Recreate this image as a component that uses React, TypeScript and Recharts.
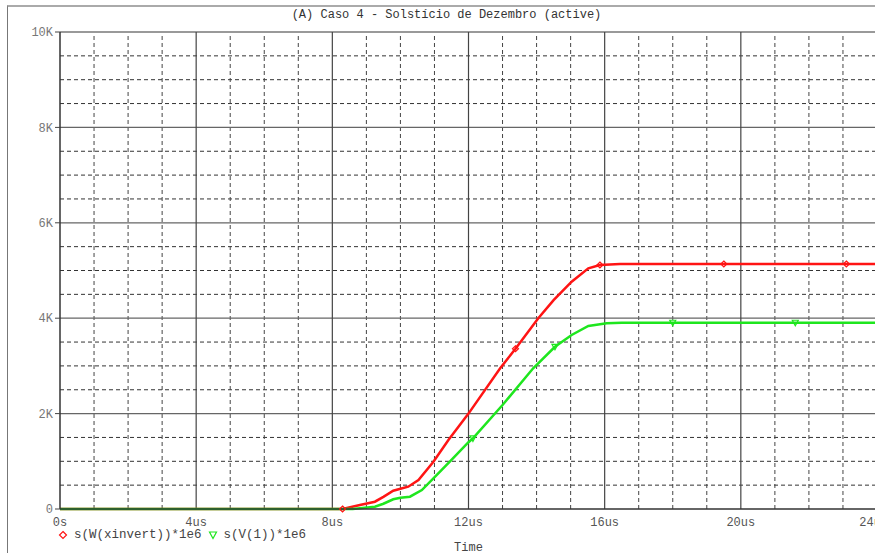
import React from "react";
import { LineChart, Line, XAxis, YAxis, ReferenceLine } from "recharts";

const FONT = "'Liberation Mono', 'DejaVu Sans Mono', monospace";

// time in us, values in the PSpice units (x1e6)
const redTime = [0, 8.3, 8.81, 9.25, 9.5, 9.79, 10.0, 10.23, 10.53, 10.97, 11.41, 12.0, 12.93, 13.38, 14.05, 14.5, 15.03, 15.52, 15.86, 16.45, 19.5, 23.1, 24];
const redValue = [0, 0, 84, 153, 255, 384, 425, 468, 608, 992, 1447, 2000, 2950, 3360, 4000, 4380, 4765, 5046, 5115, 5136, 5136, 5136, 5136];
const redMarks = [8.3, 13.38, 15.86, 19.5, 23.1];

const greenTime = [0, 8.6, 8.81, 9.25, 9.5, 9.79, 10.0, 10.28, 10.63, 11.07, 11.5, 12.0, 12.13, 13.0, 13.9, 14.54, 15.03, 15.52, 16.06, 16.5, 18.0, 21.6, 24];
const greenValue = [0, 0, 14, 49, 110, 203, 235, 258, 398, 713, 1030, 1400, 1480, 2180, 2950, 3400, 3648, 3836, 3893, 3905, 3905, 3905, 3905];
const greenMarks = [12.13, 14.54, 18.0, 21.6];

const xMajor = [0, 4, 8, 12, 16, 20, 24];
const xMinor = [1, 2, 3, 5, 6, 7, 9, 10, 11, 13, 14, 15, 17, 18, 19, 21, 22, 23];
const yMajor = [0, 2000, 4000, 6000, 8000, 10000];
const yMinor = [500, 1000, 1500, 2500, 3000, 3500, 4500, 5000, 5500, 6500, 7000, 7500, 8500, 9000, 9500];

const redData = redTime.map((t, i) => ({ t, v: redValue[i] }));
const greenData = greenTime.map((t, i) => ({ t, v: greenValue[i] }));

const RED = "#ff1414";
const GREEN = "#1ee61e";

function Diamond({ cx, cy }: any) {
  return <polygon points={`${cx},${cy - 3} ${cx + 3},${cy} ${cx},${cy + 3} ${cx - 3},${cy}`} fill="none" stroke={RED} strokeWidth={1.2} />;
}
function TriDown({ cx, cy }: any) {
  return <polygon points={`${cx - 3},${cy - 2.5} ${cx + 3},${cy - 2.5} ${cx},${cy + 3}`} fill="none" stroke={GREEN} strokeWidth={1.2} />;
}

const markDot = (marks: number[], Shape: any) => (p: any) => {
  if (!marks.includes(p.payload?.t)) return <g key={`d${p.index}`} />;
  return <Shape key={`d${p.index}`} cx={p.cx} cy={p.cy} />;
};

const fmtY = (v: number) => (v === 0 ? "0" : `${v / 1000}K`);
const fmtX = (v: number) => (v === 0 ? "0s" : `${v}us`);

export default function App() {
  return (
    <div style={{ position: "fixed", left: 0, top: 0, width: 875, height: 553, overflow: "hidden", background: "#fff", fontFamily: FONT }}>
      <div style={{ position: "absolute", left: 7, top: 5, width: 900, height: 600, borderLeft: "1px solid #777", borderTop: "2px solid #aaa" }} />
      <div style={{ position: "absolute", left: 0, top: 8, width: 893, textAlign: "center", fontSize: 12, color: "#333" }}>
        (A) Caso 4 - Solstício de Dezembro (active)
      </div>
      <LineChart width={885} height={553} margin={{ top: 32, right: 8, left: 0, bottom: 0 }}>
        <XAxis
          dataKey="t" type="number" domain={[0, 24]} ticks={xMajor} allowDataOverflow
          tickFormatter={fmtX} height={44} tickLine={false}
          axisLine={{ stroke: "#333", strokeWidth: 1.5 }}
          tick={{ fontSize: 12, fill: "#555", fontFamily: FONT }}
          label={{ value: "Time", position: "insideBottom", offset: 2, fontSize: 12, fill: "#444", fontFamily: FONT }}
        />
        <YAxis
          dataKey="v" type="number" domain={[0, 10000]} ticks={yMajor} width={60}
          tickFormatter={fmtY} tickSize={5}
          tickLine={{ stroke: "#444" }} axisLine={{ stroke: "#333", strokeWidth: 1.5 }}
          tick={{ fontSize: 12, fill: "#777", fontFamily: FONT }}
        />
        {yMinor.map((y) => (
          <ReferenceLine key={`ym${y}`} y={y} stroke="#333" strokeDasharray="4 3" />
        ))}
        {xMinor.map((x) => (
          <ReferenceLine key={`xm${x}`} x={x} stroke="#444" strokeDasharray="4 3" />
        ))}
        {yMajor.filter((y) => y > 0 && y < 10000).map((y) => (
          <ReferenceLine key={`yM${y}`} y={y} stroke="#666" strokeWidth={1.2} />
        ))}
        <ReferenceLine y={10000} stroke="#999" strokeWidth={2} />
        {xMajor.filter((x) => x > 0).map((x) => (
          <ReferenceLine key={`xM${x}`} x={x} stroke="#444" strokeWidth={1.2} />
        ))}
        <Line
          data={redData} dataKey="v" type="linear" stroke={RED} strokeWidth={2.5}
          dot={markDot(redMarks, Diamond)} activeDot={false} isAnimationActive={false}
        />
        <Line
          data={greenData} dataKey="v" type="linear" stroke={GREEN} strokeWidth={2.5}
          dot={markDot(greenMarks, TriDown)} activeDot={false} isAnimationActive={false}
        />
      </LineChart>
      <div style={{ position: "absolute", left: 58, top: 528, fontSize: 12.5, color: "#444", display: "flex", alignItems: "center", whiteSpace: "pre" }}>
        <svg width={10} height={10} style={{ marginRight: 6 }}>
          <polygon points="5,1.5 8.5,5 5,8.5 1.5,5" fill="none" stroke={RED} strokeWidth={1.2} />
        </svg>
        <span>s(W(xinvert))*1e6</span>
        <svg width={10} height={10} style={{ marginLeft: 6, marginRight: 6 }}>
          <polygon points="1.5,2 8.5,2 5,8.5" fill="none" stroke={GREEN} strokeWidth={1.2} />
        </svg>
        <span>s(V(1))*1e6</span>
      </div>
    </div>
  );
}
